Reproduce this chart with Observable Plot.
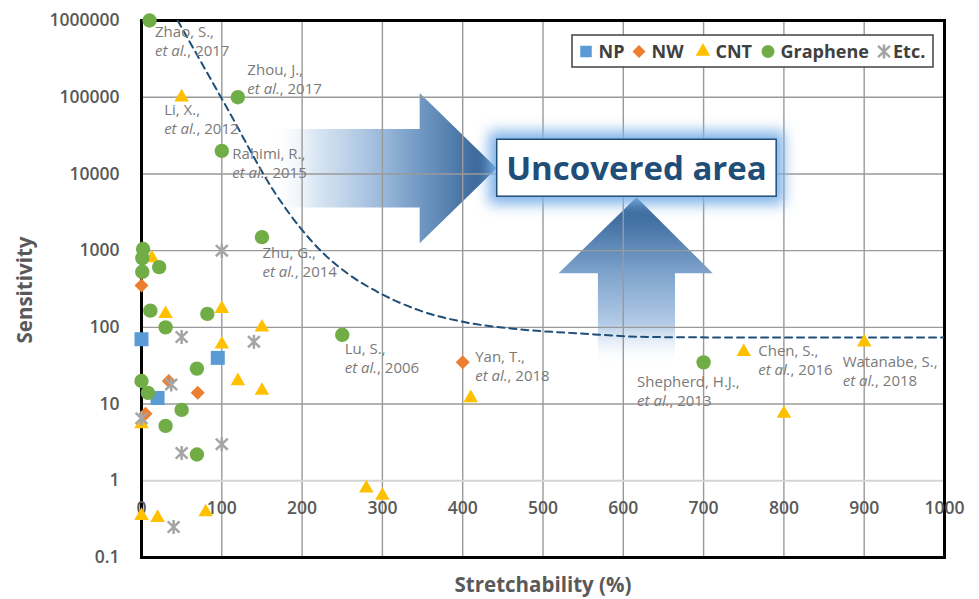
<!DOCTYPE html>
<html>
<head>
<meta charset="utf-8">
<script src="https://cdn.jsdelivr.net/npm/d3@7"></script>
<script src="https://cdn.jsdelivr.net/npm/@observablehq/plot@0.6"></script>
<style>
  html, body { margin: 0; padding: 0; background: #fff; }
  svg { display: block; }
</style>
</head>
<body>
<div id="chart"></div>
<script>
// Sensitivity (gauge factor) vs. stretchability of stretchable strain sensors, by sensing material

// NP (nanoparticles)
const npX = [0, 95, 20];
const npY = [70, 40, 12];
// NW (nanowires)
const nwX = [0, 34, 70, 5, 400];
const nwY = [350, 20, 14, 7.5, 35];
// CNT
const cntX = [50, 13, 30, 100, 100, 150, 120, 150, 0, 0, 20, 80, 280, 300, 410, 750, 800, 900];
const cntY = [100000, 800, 150, 175, 60, 100, 20, 15, 5.5, 0.35, 0.33, 0.39, 0.8, 0.64, 12, 48, 7.5, 64];
// Graphene
const grX = [10, 120, 100, 150, 250, 700, 2, 1, 1, 22, 11, 30, 82, 69, 0, 8, 50, 30, 69];
const grY = [1000000, 100000, 20000, 1500, 80, 35, 1050, 800, 530, 610, 165, 100, 150, 29, 20, 14, 8.4, 5.2, 2.2];
// Etc.
const etcX = [100, 50, 140, 37, 0, 50, 100, 40];
const etcY = [1000, 75, 65, 18, 6.5, 2.3, 3.0, 0.25];

// Boundary of the reported performance envelope (dashed)
const curveX = [45, 106, 167, 227, 257, 298, 347, 406, 463, 547, 630, 712, 1000];
const curveY = [1000000, 74000, 5500, 910, 500, 275, 165, 115, 96, 83, 75, 74, 74];

// Axis ticks
const xTicks = [0, 100, 200, 300, 400, 500, 600, 700, 800, 900, 1000];
const yTicks = [0.1, 1, 10, 100, 1000, 10000, 100000, 1000000];

// Legend entries
const seriesNames = ["NP", "NW", "CNT", "Graphene", "Etc."];

// Cited works
const citeNames = ["Zhao, S.,", "Zhou, J.,", "Li, X.,", "Rahimi, R.,", "Zhu, G.,", "Lu, S.,", "Yan, T.,", "Shepherd, H.J.,", "Chen, S.,", "Watanabe, S.,"];
const citeYears = ["2017", "2017", "2012", "2015", "2014", "2006", "2018", "2013", "2016", "2018"];
const citeX = [10, 120, 50, 100, 150, 250, 400, 700, 750, 900];
const citeY = [1000000, 100000, 100000, 20000, 1500, 80, 35, 35, 48, 64];

// ---- styling / layout ----
const COLORS = {NP: "#5B9BD5", NW: "#ED7D31", CNT: "#FFC000", Graphene: "#70AD47", "Etc.": "#A5A5A5"};
const FONT = "'Open Sans', sans-serif";
// label offsets from each cited point, in pixels
const citeDx = [6, 10, -17, 11, 1, 3, 13, -66, 15, -21];
const citeDy = [12, -27, 13, 3, 16, 14, -5, 20, -1, 20];

// Custom symbols whose size is given by r (half-width)
const diamond = {
  draw(ctx, size) {
    const s = Math.sqrt(size / Math.PI);
    ctx.moveTo(0, -s); ctx.lineTo(s, 0); ctx.lineTo(0, s); ctx.lineTo(-s, 0); ctx.closePath();
  }
};
const star = {
  draw(ctx, size) {
    const s = Math.sqrt(size / Math.PI);
    ctx.moveTo(0, -s); ctx.lineTo(0, s);
    ctx.moveTo(-s * 0.85, -s * 0.8); ctx.lineTo(s * 0.85, s * 0.8);
    ctx.moveTo(-s * 0.85, s * 0.8); ctx.lineTo(s * 0.85, -s * 0.8);
  }
};
const rows = (xs, ys) => xs.map((x, i) => ({x, y: ys[i]}));

const chart = Plot.plot({
  width: 979,
  height: 599,
  marginLeft: 141,
  marginRight: 35,
  marginTop: 20,
  marginBottom: 42,
  style: {fontFamily: FONT, background: "#fff", color: "#595959"},
  x: {domain: [0, 1000], axis: null},
  y: {type: "log", domain: [0.1, 1000000], axis: null},
  marks: [
    Plot.gridX(xTicks, {stroke: "#9a9a9a", strokeOpacity: 1, strokeWidth: 1.4}),
    Plot.gridY(yTicks.filter(d => d !== 1), {stroke: "#9a9a9a", strokeOpacity: 1, strokeWidth: 1.4}),
    Plot.ruleY([1], {stroke: "#d4d4d4", strokeWidth: 2}),
    Plot.frame({stroke: "#000", strokeWidth: 3}),
    Plot.axisY(yTicks, {
      tickSize: 0, tickPadding: 22, label: null,
      tickFormat: d => String(d),
      fontSize: 17.5, fontWeight: 600, fill: "#595959"
    }),
    Plot.text(xTicks, {
      x: d => d, y: () => 1, dy: 28, text: d => String(d),
      fontSize: 17.5, fontWeight: 600, fill: "#595959"
    }),
    Plot.line(rows(curveX, curveY), {
      x: "x", y: "y", curve: "monotone-x", clip: true,
      stroke: "#1F4E79", strokeWidth: 2, strokeDasharray: "7,5"
    }),
    Plot.dot(rows(npX, npY), {x: "x", y: "y", symbol: "square", r: 7.9, fill: COLORS.NP}),
    Plot.dot(rows(nwX, nwY), {x: "x", y: "y", symbol: diamond, r: 7, fill: COLORS.NW}),
    Plot.dot(rows(cntX, cntY), {x: "x", y: "y", symbol: "triangle", r: 5.4, fill: COLORS.CNT}),
    Plot.dot(rows(grX, grY), {x: "x", y: "y", symbol: "circle", r: 7.2, fill: COLORS.Graphene}),
    Plot.dot(rows(etcX, etcY), {x: "x", y: "y", symbol: star, r: 7, fill: "none", stroke: COLORS["Etc."], strokeWidth: 2.5})
  ]
});
document.getElementById("chart").appendChild(chart);

// ---- overlays drawn through the chart's scales ----
const svg = d3.select(chart);
const xs = chart.scale("x"), ys = chart.scale("y");
const X = v => xs.apply(v), Y = v => ys.apply(v);
const defs = svg.append("defs");

// Block arrows pointing into the uncovered region (data coordinates)
const rightArrow = [[160, 38000], [347, 38000], [347, 112000], [443, 11700], [347, 1230], [347, 3600], [160, 3600]];
const upArrow = [[617, 4900], [712, 500], [665, 500], [665, 31], [569, 31], [569, 500], [520, 500]];
const calloutBox = {x0: 443, x1: 791, y0: 27900, y1: 5050};

const gH = defs.append("linearGradient").attr("id", "gradRight")
  .attr("gradientUnits", "userSpaceOnUse")
  .attr("x1", X(160)).attr("x2", X(443)).attr("y1", 0).attr("y2", 0);
[[0, "#ffffff", 0], [0.2, "#d6e4f2", 0.9], [0.5, "#9ab8da", 1], [0.66, "#7199c4", 1], [0.82, "#4f7bab", 1], [1, "#2a5a8b", 1]]
  .forEach(([o, c, a]) => gH.append("stop").attr("offset", o).attr("stop-color", c).attr("stop-opacity", a));

const gV = defs.append("linearGradient").attr("id", "gradUp")
  .attr("gradientUnits", "userSpaceOnUse")
  .attr("x1", 0).attr("x2", 0).attr("y1", Y(4900)).attr("y2", Y(31));
[[0, "#2c5c8d", 1], [0.2, "#4d7aab", 1], [0.45, "#7ea3cc", 1], [0.75, "#b3cbe6", 1], [1, "#ffffff", 0]]
  .forEach(([o, c, a]) => gV.append("stop").attr("offset", o).attr("stop-color", c).attr("stop-opacity", a));

const glow = defs.append("filter").attr("id", "glow")
  .attr("x", "-30%").attr("y", "-80%").attr("width", "160%").attr("height", "260%");
glow.append("feGaussianBlur").attr("stdDeviation", 7);

const poly = pts => "M" + pts.map(([a, b]) => `${X(a)},${Y(b)}`).join("L") + "Z";
const under = svg.insert("g", "g").attr("aria-label", "arrows");
under.append("path").attr("d", poly(rightArrow)).attr("fill", "url(#gradRight)");
under.append("path").attr("d", poly(upArrow)).attr("fill", "url(#gradUp)");

// Citation labels
const labels = svg.append("g").attr("font-family", FONT).attr("font-size", 15)
  .attr("fill", "#7a7a7a").attr("text-anchor", "start");
citeNames.forEach((name, i) => {
  const px = X(citeX[i]) + citeDx[i], py = Y(citeY[i]) + citeDy[i];
  labels.append("text").attr("x", px).attr("y", py).attr("dy", "0.35em").text(name);
  const t2 = labels.append("text").attr("x", px).attr("y", py + 19).attr("dy", "0.35em");
  t2.append("tspan").attr("font-style", "italic").text("et al.");
  t2.append("tspan").text(", " + citeYears[i]);
});

// Callout box
const bx0 = X(calloutBox.x0), bx1 = X(calloutBox.x1), by0 = Y(calloutBox.y0), by1 = Y(calloutBox.y1);
const callout = svg.append("g");
callout.append("rect").attr("x", bx0 - 8).attr("y", by0 - 8).attr("width", bx1 - bx0 + 16).attr("height", by1 - by0 + 16)
  .attr("fill", "#7fb2e8").attr("filter", "url(#glow)");
callout.append("rect").attr("x", bx0).attr("y", by0).attr("width", bx1 - bx0).attr("height", by1 - by0)
  .attr("fill", "#fff").attr("stroke", "#1F4E79").attr("stroke-width", 1.5);
callout.append("text").attr("x", (bx0 + bx1) / 2).attr("y", (by0 + by1) / 2).attr("dy", "0.36em")
  .attr("text-anchor", "middle").attr("font-family", FONT).attr("font-weight", 700).attr("font-size", 33)
  .attr("fill", "#1F4E79").text("Uncovered area");

// Axis titles
svg.append("text").attr("transform", "translate(25,290) rotate(-90)").attr("text-anchor", "middle").attr("dy", "0.35em")
  .attr("font-family", FONT).attr("font-weight", 700).attr("font-size", 20.5).attr("fill", "#595959").text("Sensitivity");
svg.append("text").attr("x", 543).attr("y", 585).attr("text-anchor", "middle").attr("dy", "0.35em")
  .attr("font-family", FONT).attr("font-weight", 700).attr("font-size", 20.5).attr("fill", "#595959").text("Stretchability (%)");

// Legend
const legendSlots = [586, 639, 703, 768, 884];
const legendSymbols = [d3.symbolSquare, diamond, d3.symbolTriangle, d3.symbolCircle, star];
const legendSizes = [6.5, 6.5, 5.4, 6.5, 7];
const lg = svg.append("g").attr("text-anchor", "start");
lg.append("rect").attr("x", 572).attr("y", 35).attr("width", 361).attr("height", 32)
  .attr("fill", "#fff").attr("stroke", "#404040").attr("stroke-width", 1.5);
seriesNames.forEach((name, i) => {
  const cx = legendSlots[i], cy = 51.5;
  const path = d3.symbol(legendSymbols[i], Math.PI * legendSizes[i] ** 2)();
  const m = lg.append("path").attr("d", path).attr("transform", `translate(${cx},${cy})`);
  if (name === "Etc.") m.attr("fill", "none").attr("stroke", COLORS[name]).attr("stroke-width", 2.5);
  else m.attr("fill", COLORS[name]);
  lg.append("text").attr("x", cx + (name === "Etc." ? 9 : 12.5)).attr("y", cy).attr("dy", "0.36em")
    .attr("font-family", FONT).attr("font-weight", 700).attr("font-size", 18).attr("fill", "#404040").text(name);
});
</script>
</body>
</html>
